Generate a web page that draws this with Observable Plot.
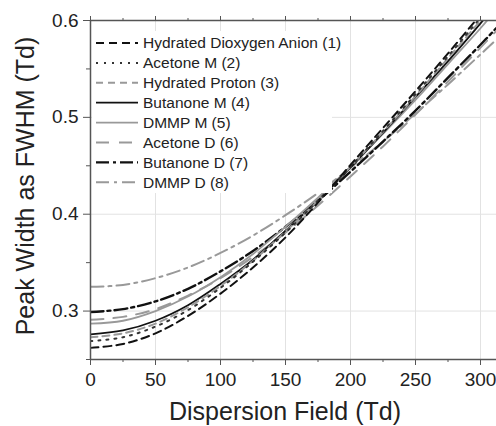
<!DOCTYPE html>
<html>
<head>
<meta charset="utf-8">
<script src="https://cdn.jsdelivr.net/npm/d3@7"></script>
<script src="https://cdn.jsdelivr.net/npm/@observablehq/plot@0.6"></script>
<style>
  html, body { margin: 0; padding: 0; background: #fff; }
  #chart { width: 496px; height: 426px; }
</style>
</head>
<body>
<div id="chart"></div>
<script>
// Dispersion field (Td)
const fields = [0, 25, 50, 75, 100, 125, 150, 175, 200, 225, 250, 275, 300, 312];

// Peak width as FWHM (Td)
const dioxygenAnion = [0.262, 0.266, 0.277, 0.295, 0.318, 0.345, 0.376, 0.412, 0.451, 0.489, 0.527, 0.566, 0.606, 0.625];
const acetoneM      = [0.269, 0.273, 0.284, 0.301, 0.324, 0.351, 0.381, 0.414, 0.449, 0.486, 0.524, 0.563, 0.603, 0.623];
const hydratedProton= [0.273, 0.277, 0.287, 0.304, 0.326, 0.352, 0.382, 0.414, 0.449, 0.485, 0.522, 0.561, 0.600, 0.619];
const butanoneM     = [0.276, 0.280, 0.290, 0.306, 0.328, 0.353, 0.383, 0.414, 0.448, 0.484, 0.521, 0.558, 0.597, 0.616];
const dmmpM         = [0.287, 0.290, 0.300, 0.315, 0.335, 0.359, 0.387, 0.417, 0.449, 0.483, 0.518, 0.555, 0.592, 0.611];
const acetoneD      = [0.291, 0.294, 0.302, 0.316, 0.334, 0.356, 0.381, 0.409, 0.439, 0.470, 0.503, 0.537, 0.572, 0.589];
const butanoneD     = [0.299, 0.302, 0.310, 0.323, 0.341, 0.362, 0.387, 0.414, 0.444, 0.475, 0.507, 0.541, 0.575, 0.592];
const dmmpD         = [0.325, 0.327, 0.334, 0.345, 0.360, 0.378, 0.399, 0.422, 0.448, 0.475, 0.504, 0.534, 0.565, 0.580];

const seriesNames = [
  "Hydrated Dioxygen Anion (1)", "Acetone M (2)", "Hydrated Proton (3)", "Butanone M (4)",
  "DMMP M (5)", "Acetone D (6)", "Butanone D (7)", "DMMP D (8)"
];
const seriesValues = [dioxygenAnion, acetoneM, hydratedProton, butanoneM, dmmpM, acetoneD, butanoneD, dmmpD];

const xTicks = [0, 50, 100, 150, 200, 250, 300];
const xMinor = [25, 75, 125, 175, 225, 275];
const yTicks = [0.3, 0.4, 0.5, 0.6];
const yMinor = [0.25, 0.35, 0.45, 0.55];

// styles (not data)
const styles = [
  {stroke: "#111", dash: "8,5", w: 2},
  {stroke: "#333", dash: "2,6", w: 2},
  {stroke: "#999", dash: "7,5", w: 2},
  {stroke: "#111", dash: null, w: 1.8},
  {stroke: "#999", dash: null, w: 1.8},
  {stroke: "#999", dash: "13,10", w: 2},
  {stroke: "#111", dash: "13,4,3,4", w: 2.4},
  {stroke: "#999", dash: "13,5,3,5", w: 2}
];

const tables = seriesValues.map((vals, i) =>
  fields.map((f, j) => ({field: f, width: vals[j], name: seriesNames[i]}))
);

const axisColor = "#555";
const lines = tables.map((t, i) => Plot.line(t, {
  x: "field", y: "width",
  stroke: styles[i].stroke,
  strokeWidth: styles[i].w,
  strokeDasharray: styles[i].dash,
  curve: "catmull-rom",
  clip: true
}));

const plot = Plot.plot({
  width: 496,
  height: 426,
  marginLeft: 90,
  marginRight: 0,
  marginTop: 20,
  marginBottom: 67,
  style: {fontFamily: "Liberation Sans, Arial, sans-serif", background: "#fff", color: "#222"},
  x: {domain: [0, 312.3], label: null},
  y: {domain: [0.25, 0.6], label: null},
  marks: [
    Plot.gridX(xTicks.slice(1), {stroke: "#e2e2e2", strokeOpacity: 1}),
    Plot.gridY(yTicks.slice(0, 3), {stroke: "#e2e2e2", strokeOpacity: 1}),
    ...lines.slice().reverse(),
    Plot.ruleY([0.25, 0.6], {stroke: axisColor, strokeWidth: 1.5}),
    Plot.ruleX([0], {stroke: axisColor, strokeWidth: 1.5}),
    Plot.axisX({anchor: "bottom", ticks: xTicks, tickSize: 6, tickPadding: 7, fontSize: 19, stroke: axisColor, label: null, tickFormat: d => String(d)}),
    Plot.axisX({anchor: "bottom", ticks: xMinor, tickSize: 3, stroke: axisColor, label: null, tickFormat: () => ""}),
    Plot.axisX({anchor: "top", ticks: xTicks, tickSize: 5, stroke: axisColor, label: null, tickFormat: () => ""}),
    Plot.axisX({anchor: "top", ticks: xMinor, tickSize: 3, stroke: axisColor, label: null, tickFormat: () => ""}),
    Plot.axisY({anchor: "left", ticks: yTicks, tickSize: 7, tickPadding: 5, fontSize: 19, stroke: axisColor, label: null, tickFormat: d => d.toFixed(1)}),
    Plot.axisY({anchor: "left", ticks: yMinor, tickSize: 4, stroke: axisColor, label: null, tickFormat: () => ""})
  ]
});

document.getElementById("chart").appendChild(plot);

const svg = d3.select(plot);
// Axis titles
svg.append("text")
  .attr("x", 285).attr("y", 420)
  .attr("text-anchor", "middle")
  .attr("font-size", 25)
  .attr("fill", "#222")
  .text("Dispersion Field (Td)");
svg.append("text")
  .attr("transform", "translate(34,186) rotate(-90)")
  .attr("text-anchor", "middle")
  .attr("font-size", 25)
  .attr("fill", "#222")
  .text("Peak Width as FWHM (Td)");

// Legend
const lg = svg.append("g").attr("text-anchor", "start");
lg.append("rect").attr("x", 92).attr("y", 31).attr("width", 240).attr("height", 162).attr("fill", "#fff");
seriesNames.forEach((name, i) => {
  const y = 43 + i * 19.9;
  lg.append("line")
    .attr("x1", 96).attr("x2", 138).attr("y1", y).attr("y2", y)
    .attr("stroke", styles[i].stroke)
    .attr("stroke-width", styles[i].w)
    .attr("stroke-dasharray", styles[i].dash);
  lg.append("text")
    .attr("x", 143).attr("y", y).attr("dy", "0.35em")
    .attr("text-anchor", "start")
    .attr("font-size", 15.5)
    .attr("fill", "#222")
    .text(name);
});
</script>
</body>
</html>
